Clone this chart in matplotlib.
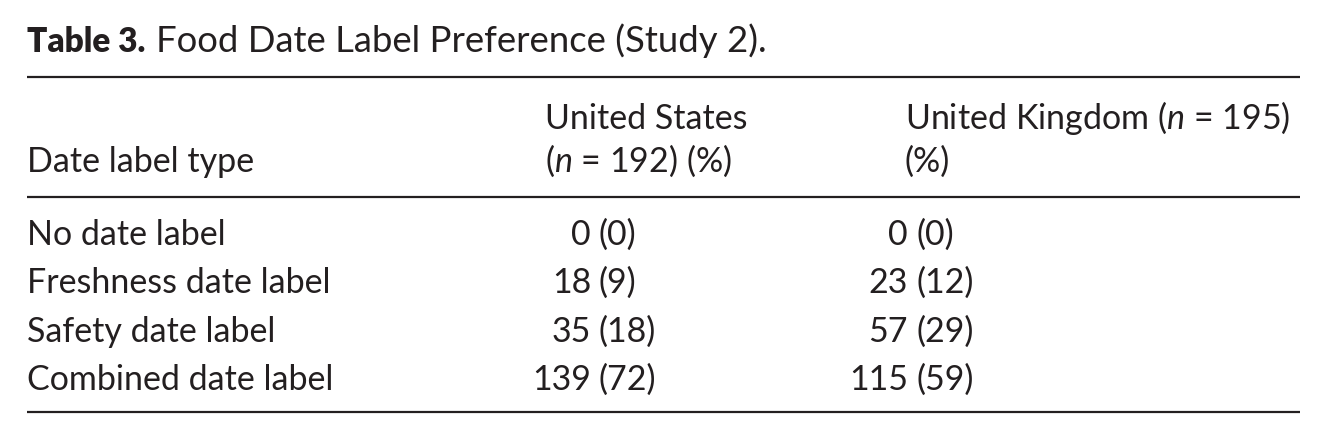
import matplotlib
matplotlib.use("Agg")
import matplotlib.pyplot as plt

# table content
title_bold = "Table 3."
title_rest = "Food Date Label Preference (Study 2)."
row_header = "Date label type"
label_types = ["No date label", "Freshness date label", "Safety date label", "Combined date label"]
us_n = 192
uk_n = 195
us_counts = [0, 18, 35, 139]
us_pct = [0, 9, 18, 72]
uk_counts = [0, 23, 57, 115]
uk_pct = [0, 12, 29, 59]

plt.rcParams["font.family"] = ["Lato", "DejaVu Sans"]
plt.rcParams["mathtext.fontset"] = "custom"
plt.rcParams["mathtext.rm"] = "Lato"
plt.rcParams["mathtext.it"] = "Lato:italic"

ink = "#231f20"
fs = 24.5

fig = plt.figure(figsize=(13.27, 4.41), dpi=100)
ax = fig.add_axes([0, 0, 1, 1])
ax.set_xlim(0, 1327)
ax.set_ylim(441, 0)
ax.axis("off")

# title
ax.text(27, 52, title_bold, fontsize=24, fontweight="heavy", color=ink, va="baseline")
ax.text(767, 52, title_rest, fontsize=26.3, color=ink, va="baseline", ha="right")

# rules
for y in (77, 197, 412):
    ax.plot([27, 1300], [y, y], color=ink, lw=1.6, solid_capstyle="butt")

# column headers
x_lab, x_us, x_uk = 27, 545, 905
ax.text(x_lab, 172, row_header, fontsize=fs, color=ink, va="baseline")
ax.text(x_us, 129, "United States", fontsize=fs, color=ink, va="baseline")
ax.text(x_us, 172, "($n$ = %d) (%%)" % us_n, fontsize=fs, color=ink, va="baseline")
ax.text(x_uk, 129, "United Kingdom ($n$ = %d)" % uk_n, fontsize=fs, color=ink, va="baseline")
ax.text(x_uk, 172, "(%)", fontsize=fs, color=ink, va="baseline")

# body rows
row_y0, row_step = 245, 48.3
tab_us, tab_uk = 591, 908
for i, lab in enumerate(label_types):
    y = row_y0 + i * row_step
    ax.text(x_lab, y, lab, fontsize=fs, color=ink, va="baseline")
    ax.text(tab_us, y, str(us_counts[i]), fontsize=fs, color=ink, va="baseline", ha="right")
    ax.text(tab_us + 8, y, "(%d)" % us_pct[i], fontsize=fs, color=ink, va="baseline", ha="left")
    ax.text(tab_uk, y, str(uk_counts[i]), fontsize=fs, color=ink, va="baseline", ha="right")
    ax.text(tab_uk + 8, y, "(%d)" % uk_pct[i], fontsize=fs, color=ink, va="baseline", ha="left")

fig.savefig("out.png", dpi=100, facecolor="white")
